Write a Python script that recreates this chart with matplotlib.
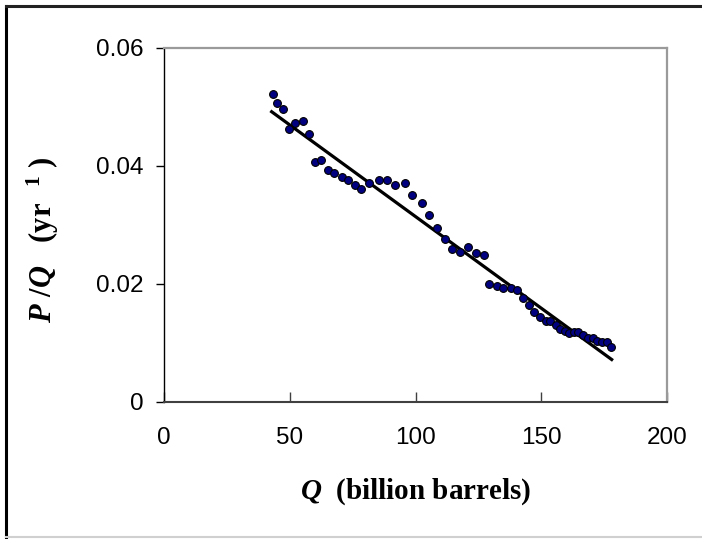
import numpy as np
import matplotlib.pyplot as plt
from matplotlib.lines import Line2D

# cumulative production Q (billion barrels) and P/Q (1/yr)
q = [43.2, 45.0, 47.4, 49.8, 52.2, 55.4, 57.8, 59.9, 62.3, 65.3,
     67.7, 70.7, 73.0, 76.1, 78.4, 81.6, 85.4, 88.5, 91.7, 95.7,
     98.6, 102.5, 105.5, 108.7, 111.6, 114.6, 117.7, 121.0, 124.1, 127.2,
     129.3, 132.3, 134.9, 137.9, 140.2, 142.6, 145.2, 147.2, 149.5, 151.9,
     153.5, 155.9, 157.5, 159.4, 161.2, 163.0, 164.7, 166.7, 168.7, 170.7,
     172.3, 174.0, 176.0, 177.6]
pq = [0.0522, 0.0506, 0.0496, 0.0462, 0.0473, 0.0476, 0.0454, 0.0407, 0.0410, 0.0394,
      0.0388, 0.0381, 0.0377, 0.0367, 0.0361, 0.0371, 0.0377, 0.0377, 0.0367, 0.0371,
      0.0351, 0.0338, 0.0317, 0.0295, 0.0276, 0.0259, 0.0255, 0.0262, 0.0252, 0.0249,
      0.0200, 0.0197, 0.0193, 0.0193, 0.0189, 0.0176, 0.0164, 0.0153, 0.0144, 0.0137,
      0.0137, 0.0131, 0.0123, 0.0120, 0.0117, 0.0118, 0.0119, 0.0114, 0.0108, 0.0108,
      0.0104, 0.0101, 0.0102, 0.0094]

# fitted straight line
fit_q = [42.8, 178.0]
fit_pq = [0.0492, 0.0072]

xticks = [0, 50, 100, 150, 200]
yticks = [0, 0.02, 0.04, 0.06]
ytick_labels = ['0', '0.02', '0.04', '0.06']

plt.rcParams['mathtext.fontset'] = 'custom'
plt.rcParams['mathtext.rm'] = 'Liberation Serif:bold'
plt.rcParams['mathtext.it'] = 'Liberation Serif:italic:bold'
plt.rcParams['mathtext.bf'] = 'Liberation Serif:bold'

fig = plt.figure(figsize=(7.02, 5.39), dpi=100)
ax = fig.add_axes([164/702, 1 - 402/539, 503/702, 354/539])

ax.plot(fit_q, fit_pq, color='black', lw=2.3, zorder=2)
ax.plot(q, pq, 'o', color='#000080', mec='black', mew=0.8, ms=5.6, zorder=3)

ax.set_xlim(0, 200)
ax.set_ylim(0, 0.06)
ax.set_xticks(xticks)
ax.set_yticks(yticks)
ax.set_yticklabels(ytick_labels)

for lab in ax.get_xticklabels() + ax.get_yticklabels():
    lab.set_fontfamily('Liberation Sans')
    lab.set_fontsize(17.5)

ax.tick_params(axis='y', direction='out', length=6, width=1, pad=9, color='black')
ax.tick_params(axis='x', direction='in', length=7, width=1, pad=18, color='#404040')

ax.spines['left'].set_color('black')
ax.spines['left'].set_linewidth(1.0)
ax.spines['bottom'].set_color('#404040')
ax.spines['bottom'].set_linewidth(1.5)
for s in ['top', 'right']:
    ax.spines[s].set_color('#9a9a9a')
    ax.spines[s].set_linewidth(1.6)

ax.set_xlabel(r'$Q$  (billion barrels)', family='Liberation Serif',
              fontweight='bold', fontsize=21, labelpad=20)
ax.set_ylabel(r'$P\ /Q\ \ \ \mathrm{(yr}^{\ \ \ 1}\ \mathrm{)}$', fontsize=22)
ax.yaxis.set_label_coords(-0.205, 0.46)

# outer frame of the original picture
fig.add_artist(Line2D([6/702, 6/702], [0, 1 - 6/539], transform=fig.transFigure,
                      color='black', lw=2.2))
fig.add_artist(Line2D([6/702, 1], [1 - 6/539, 1 - 6/539], transform=fig.transFigure,
                      color='#222222', lw=2.2))
fig.add_artist(Line2D([6/702, 1], [2/539, 2/539], transform=fig.transFigure,
                      color='#d0d0d0', lw=1.5))

fig.savefig('out.png', dpi=100)
